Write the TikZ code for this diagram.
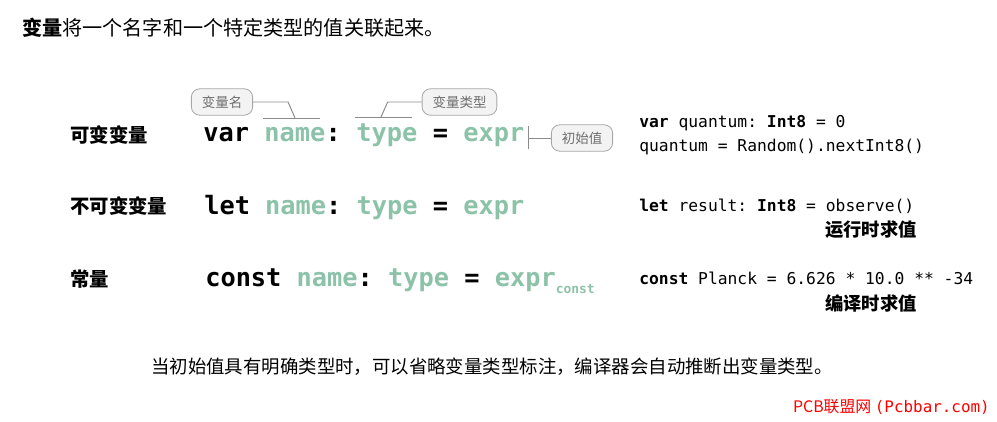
\documentclass[tikz,border=0pt]{standalone}
\usepackage{fontspec}
\usepackage{xcolor}
\usetikzlibrary{positioning, calc}
\setmainfont{Noto Sans CJK SC}
\setmonofont{DejaVu Sans Mono}
\newfontfamily\cjk{Noto Sans CJK SC}
\definecolor{swiftgreen}{HTML}{8CC3A8}
\definecolor{leadgrey}{HTML}{8C8C8C}
\definecolor{tagedge}{HTML}{A8A8A8}
\definecolor{tagfill}{HTML}{F3F3F3}
\definecolor{tagtext}{HTML}{6E6E6E}
\definecolor{markred}{HTML}{FF0000}

\tikzset{
  rowlabel/.style={anchor=west, inner sep=0pt, font=\cjk\bfseries\fontsize{13.8}{16}\selectfont},
  bigcode/.style={anchor=base west, inner sep=0pt, font=\ttfamily\bfseries\fontsize{18}{20}\selectfont},
  smallcode/.style={anchor=base west, inner sep=0pt, font=\ttfamily\fontsize{11.6}{14}\selectfont},
  evalnote/.style={anchor=east, inner sep=0pt, font=\cjk\bfseries\fontsize{13}{15}\selectfont},
  tagbox/.style={draw=tagedge, fill=tagfill, text=tagtext, rounded corners=6pt,
    minimum height=0.66cm, inner xsep=0.26cm, inner ysep=0pt, line width=0.6pt,
    font=\cjk\fontsize{9.6}{11}\selectfont},
  leader/.style={draw=leadgrey, line width=0.7pt}
}

\begin{document}
\begin{tikzpicture}[x=0.025cm, y=-0.025cm]
  \def\cw{15.3}  % mono char width, px
  \useasboundingbox (0,0) rectangle (997,421);

  \node[anchor=west, inner sep=0pt, font=\cjk\fontsize{14.3}{16}\selectfont] (title) at (22,28)
       {\textbf{变量}将一个名字和一个特定类型的值关联起来。};

  % row labels
  \foreach \y/\lbl/\nm in {135/可变变量/lvar, 206/不可变变量/llet, 279/常量/lconst}
    \node[rowlabel] (\nm) at (70,\y) {\lbl};

  % row 1, one node per token
  \foreach \k/\tok/\col/\nm in {0/var/black/rkw, 4/name/swiftgreen/rname, 8/:/black/rcolon,
      10/type/swiftgreen/rtype, 15/=/black/req, 17/expr/swiftgreen/rexpr}
    \node[bigcode, text=\col] (\nm) at (203+\k*\cw,141) {\tok};

  \node[bigcode] (rlet) at (204,214)
       {let \textcolor{swiftgreen}{name}: \textcolor{swiftgreen}{type} = \textcolor{swiftgreen}{expr}};
  \node[bigcode] (rconst) at (205,286)
       {const \textcolor{swiftgreen}{name}: \textcolor{swiftgreen}{type} = \textcolor{swiftgreen}{expr\raisebox{-5pt}{\fontsize{9.2}{10}\selectfont const}}};

  % callouts
  \node[tagbox] (tname) at (222,102) {变量名};
  \node[tagbox] (ttype) at (459.5,102) {变量类型};
  \node[tagbox] (tinit) at (582,138) {初始值};

  \coordinate (nameL) at (263,118);
  \coordinate (nameR) at (320,118);
  \coordinate (nameK) at (295,118);
  \coordinate (typeL) at (355,117);
  \coordinate (typeR) at (412,117);
  \coordinate (typeK) at (381,117);
  \coordinate (initT) at (528,126);
  \coordinate (initB) at (528,149);

  \draw[leader] (tname.east) -- ++(35,0) -- (nameK);
  \draw[leader] (nameL) -- (nameR);
  \draw[leader] (ttype.west) -- ++(-34,0) -- (typeK);
  \draw[leader] (typeL) -- (typeR);
  \draw[leader] (tinit.west) -- (tinit.west -| initT);
  \draw[leader] (initT) -- (initB);

  % examples
  \node[smallcode] (q1) at (639,127) {\textbf{var} quantum: \textbf{Int8} = 0};
  \node[smallcode] (q2) at (639,151) {quantum = Random().nextInt8()};
  \node[smallcode] (r1) at (639,211) {\textbf{let} result: \textbf{Int8} = observe()};
  \node[evalnote] (e1) at (917,230) {运行时求值};
  \node[smallcode] (c1) at (639,284) {\textbf{const} Planck = 6.626 * 10.0 ** -34};
  \node[evalnote] (e2) at (917,303) {编译时求值};

  \node[inner sep=0pt, font=\cjk\fontsize{13.1}{15}\selectfont] (note) at (492,367)
       {当初始值具有明确类型时，可以省略变量类型标注，编译器会自动推断出变量类型。};

  \node[anchor=east, inner sep=0pt, text=markred, font=\cjk\fontsize{11.3}{13}\selectfont] (mark) at (990,407)
       {PCB联盟网 {\ttfamily(Pcbbar.com)}};
\end{tikzpicture}
\end{document}
